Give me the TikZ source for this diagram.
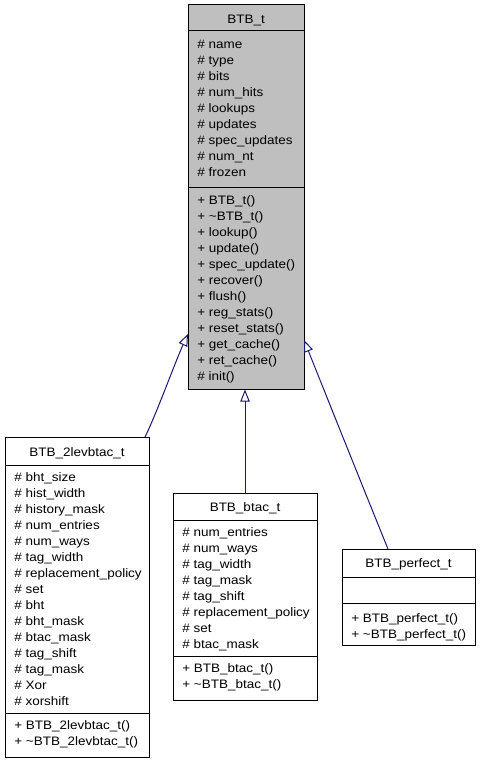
\documentclass[tikz,border=0pt]{standalone}
\usepackage{fontspec}
\setmainfont[FakeStretch=1.1]{Liberation Sans}
\usetikzlibrary{arrows.meta,fit}
\definecolor{edgeblue}{HTML}{191970}
\definecolor{boxgray}{HTML}{BFBFBF}
\begin{document}
\begin{tikzpicture}[x=0.75pt,y=-0.75pt,
  box/.style={draw=black,line width=0.75pt,inner sep=0pt,rectangle},
  sep/.style={draw=black,line width=0.75pt},
  txt/.style={anchor=base west,inner sep=0pt,font=\fontsize{9.2}{11}\selectfont},
  ttl/.style={anchor=base,inner sep=0pt,font=\fontsize{9.2}{11}\selectfont},
  edge/.style={draw=edgeblue,line width=0.75pt,-{Triangle[open,length=9pt,width=7pt]}}]
\useasboundingbox (0,0) rectangle (480,763);
% BTB_t
\node[box,fill=boxgray,fit={(188,5) (304,389)}] (btb) {};
\draw[sep] (188,31) -- (304,31);
\draw[sep] (188,187) -- (304,187);
\node[ttl] (btbt) at (246,23.5) {BTB\_t};
\foreach \t [count=\i from 0] in {name,type,bits,num\_hits,lookups,updates,spec\_updates,num\_nt,frozen}
  \node[txt] (btba\i) at (197,48.5+16*\i) {\# \t};
\foreach \t [count=\i from 0] in {+ BTB\_t(),+ \textasciitilde BTB\_t(),+ lookup(),+ update(),+ spec\_update(),+ recover(),+ flush(),+ reg\_stats(),+ reset\_stats(),+ get\_cache(),+ ret\_cache(),\# init()}
  \node[txt] (btbm\i) at (197,204.5+16*\i) {\t};
% BTB_2levbtac_t
\node[box,fit={(5,437) (149,757)}] (lev) {};
\draw[sep] (5,465) -- (149,465);
\draw[sep] (5,713) -- (149,713);
\node[ttl] (levt) at (77,456) {BTB\_2levbtac\_t};
\foreach \t [count=\i from 0] in {bht\_size,hist\_width,history\_mask,num\_entries,num\_ways,tag\_width,replacement\_policy,set,bht,bht\_mask,btac\_mask,tag\_shift,tag\_mask,Xor,xorshift}
  \node[txt] (leva\i) at (14,481.5+16*\i) {\# \t};
\node[txt] (levm0) at (14,729.5) {+ BTB\_2levbtac\_t()};
\node[txt] (levm1) at (14,745.5) {+ \textasciitilde BTB\_2levbtac\_t()};
% BTB_btac_t
\node[box,fit={(173,493) (317,700)}] (btac) {};
\draw[sep] (173,520) -- (317,520);
\draw[sep] (173,656) -- (317,656);
\node[ttl] (btact) at (245,511.5) {BTB\_btac\_t};
\foreach \t [count=\i from 0] in {num\_entries,num\_ways,tag\_width,tag\_mask,tag\_shift,replacement\_policy,set,btac\_mask}
  \node[txt] (btaca\i) at (182,536.5+16*\i) {\# \t};
\node[txt] (btacm0) at (182,672.5) {+ BTB\_btac\_t()};
\node[txt] (btacm1) at (182,688.5) {+ \textasciitilde BTB\_btac\_t()};
% BTB_perfect_t
\node[box,fit={(342,549) (475,645)}] (perf) {};
\draw[sep] (342,577) -- (475,577);
\draw[sep] (342,603) -- (475,603);
\node[ttl] (perft) at (408.5,567.5) {BTB\_perfect\_t};
\node[txt] (perfm0) at (351,622.5) {+ BTB\_perfect\_t()};
\node[txt] (perfm1) at (351,638.5) {+ \textasciitilde BTB\_perfect\_t()};
% connectors
\coordinate (levs) at (145,437);
\coordinate (tipl) at (188,334);
\coordinate (perfs) at (388,549);
\coordinate (tipr) at (304,340);
\draw[edge] (levs) .. controls (156,415) and (176,360) .. (tipl);
\draw[edge] (btac.north) -- (btac.north |- btb.south);
\draw[edge] (perfs) .. controls (360,480) and (320,380) .. (tipr);
\end{tikzpicture}
\end{document}
